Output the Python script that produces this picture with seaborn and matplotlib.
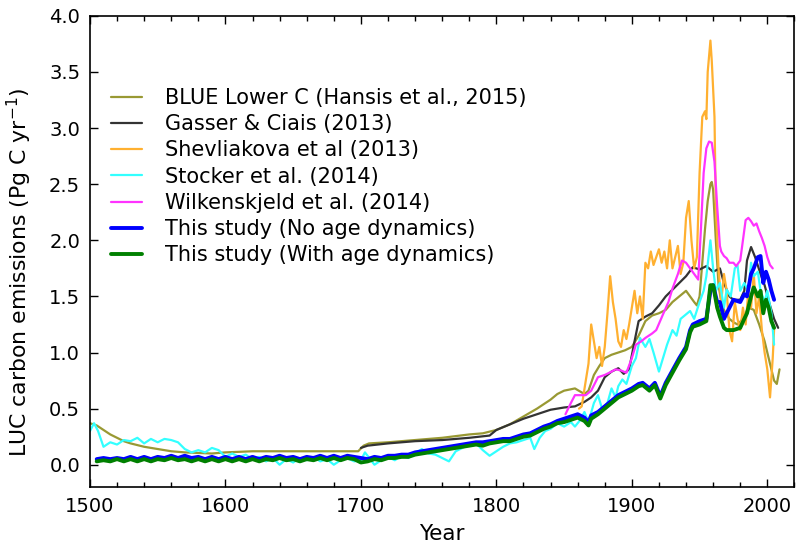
import matplotlib
matplotlib.use("Agg")
import matplotlib.pyplot as plt
from matplotlib.ticker import MultipleLocator
import seaborn as sns
import numpy as np

# BLUE Lower C (Hansis et al., 2015)
blue_years = [1500, 1505, 1510, 1515, 1520, 1525, 1530, 1540, 1550, 1560, 1570, 1580, 1590, 1600,
              1610, 1620, 1650, 1698, 1702, 1706, 1720, 1740, 1760, 1780, 1790, 1800, 1810, 1820,
              1830, 1840, 1845, 1850, 1858, 1865, 1868, 1872, 1876, 1880, 1885, 1890, 1895, 1900,
              1905, 1910, 1915, 1920, 1925, 1930, 1935, 1940, 1943, 1946, 1948, 1950, 1952, 1954,
              1956, 1958, 1959, 1960, 1962, 1964, 1966, 1968, 1972, 1975, 1978, 1982, 1986, 1990,
              1994, 1998, 2002, 2005, 2007, 2009]
blue_vals = [0.37, 0.35, 0.31, 0.27, 0.24, 0.21, 0.19, 0.16, 0.14, 0.12, 0.11, 0.105, 0.10, 0.11,
             0.115, 0.12, 0.12, 0.12, 0.17, 0.19, 0.20, 0.22, 0.24, 0.27, 0.28, 0.31, 0.36, 0.43,
             0.50, 0.58, 0.63, 0.66, 0.68, 0.63, 0.66, 0.80, 0.88, 0.95, 0.98, 1.00, 1.02, 1.05,
             1.15, 1.28, 1.33, 1.35, 1.38, 1.45, 1.50, 1.55, 1.50, 1.45, 1.42, 1.50, 1.80, 2.10,
             2.35, 2.50, 2.52, 2.45, 2.00, 1.60, 1.45, 1.38, 1.30, 1.27, 1.25, 1.30, 1.40, 1.38,
             1.25, 1.10, 0.90, 0.75, 0.72, 0.85]

# Gasser & Ciais (2013)
gasser_years = [1700, 1705, 1720, 1740, 1760, 1780, 1795, 1800, 1810, 1820, 1830, 1840, 1850, 1858,
                1865, 1870, 1875, 1880, 1885, 1890, 1894, 1898, 1902, 1905, 1910, 1915, 1920, 1925,
                1930, 1935, 1940, 1945, 1950, 1955, 1960, 1965, 1968, 1972, 1975, 1980, 1983, 1985,
                1988, 1991, 1995, 1998, 2002, 2005, 2008]
gasser_vals = [0.15, 0.17, 0.19, 0.21, 0.22, 0.24, 0.26, 0.31, 0.36, 0.41, 0.45, 0.49, 0.51, 0.52,
               0.56, 0.60, 0.66, 0.78, 0.83, 0.86, 0.81, 0.85, 1.10, 1.28, 1.32, 1.35, 1.42, 1.50,
               1.56, 1.62, 1.68, 1.76, 1.74, 1.77, 1.72, 1.75, 1.62, 1.50, 1.47, 1.47, 1.55, 1.82,
               1.94, 1.85, 1.70, 1.60, 1.42, 1.30, 1.22]

# Shevliakova et al (2013)
shev_years = [1861, 1863, 1866, 1868, 1870, 1872, 1874, 1876, 1878, 1880, 1882, 1884, 1886, 1888,
              1890, 1892, 1894, 1896, 1898, 1900, 1902, 1904, 1906, 1908, 1910, 1912, 1914, 1916,
              1918, 1920, 1922, 1924, 1926, 1928, 1930, 1932, 1934, 1936, 1938, 1940, 1942, 1944,
              1946, 1948, 1950, 1952, 1954, 1955, 1956, 1958, 1959, 1961, 1962, 1964, 1966, 1968,
              1970, 1972, 1974, 1976, 1978, 1980, 1982, 1984, 1986, 1988, 1990, 1992, 1994, 1996,
              1998, 2000, 2002, 2004, 2005]
shev_vals = [0.50, 0.52, 0.75, 0.90, 1.25, 1.10, 0.95, 1.05, 0.88, 1.05, 1.35, 1.68, 1.45, 1.30,
             1.10, 1.05, 1.20, 1.12, 1.25, 1.40, 1.55, 1.35, 1.50, 1.30, 1.80, 1.75, 1.90, 1.78,
             1.85, 1.92, 1.80, 1.90, 1.75, 2.00, 1.75, 1.85, 1.95, 1.70, 1.80, 2.20, 2.35, 2.00,
             1.75, 1.85, 2.60, 3.10, 3.15, 3.08, 3.50, 3.78, 3.60, 3.10, 2.30, 1.75, 1.45, 1.70,
             1.55, 1.20, 1.10, 1.45, 1.30, 1.20, 1.40, 1.25, 1.55, 1.40, 1.70, 1.35, 1.50, 1.20,
             1.00, 0.85, 0.60, 0.95, 1.20]

# Stocker et al. (2014)
stocker_years = [1500, 1503, 1506, 1510, 1515, 1520, 1525, 1530, 1535, 1540, 1545, 1550, 1555, 1560,
                 1565, 1570, 1575, 1580, 1585, 1590, 1595, 1600, 1605, 1610, 1615, 1620, 1625, 1630,
                 1635, 1640, 1645, 1650, 1655, 1660, 1665, 1670, 1675, 1680, 1685, 1690, 1695, 1700,
                 1703, 1710, 1715, 1720, 1725, 1730, 1735, 1740, 1745, 1750, 1755, 1760, 1765, 1770,
                 1775, 1780, 1785, 1790, 1795, 1800, 1805, 1810, 1815, 1820, 1825, 1828, 1832, 1836,
                 1840, 1845, 1850, 1855, 1858, 1862, 1865, 1868, 1872, 1875, 1878, 1882, 1885, 1888,
                 1890, 1893, 1896, 1900, 1903, 1906, 1910, 1913, 1916, 1920, 1923, 1926, 1930, 1933,
                 1936, 1940, 1943, 1946, 1950, 1953, 1955, 1958, 1960, 1962, 1965, 1968, 1970, 1973,
                 1976, 1978, 1980, 1983, 1986, 1988, 1990, 1993, 1995, 1998, 2000, 2003, 2005]
stocker_vals = [0.30, 0.37, 0.30, 0.16, 0.20, 0.18, 0.22, 0.21, 0.24, 0.19, 0.23, 0.20, 0.23, 0.22,
                0.20, 0.14, 0.11, 0.13, 0.11, 0.15, 0.13, 0.07, 0.10, 0.07, 0.09, 0.05, 0.07, 0.03,
                0.06, 0.00, 0.05, 0.02, 0.06, 0.04, 0.07, 0.03, 0.05, 0.00, 0.04, 0.06, 0.03, 0.04,
                0.11, 0.00, 0.04, 0.07, 0.04, 0.08, 0.06, 0.10, 0.14, 0.10, 0.09, 0.06, 0.03, 0.12,
                0.15, 0.18, 0.19, 0.13, 0.08, 0.12, 0.16, 0.19, 0.20, 0.22, 0.24, 0.14, 0.24, 0.30,
                0.32, 0.37, 0.34, 0.38, 0.34, 0.40, 0.47, 0.38, 0.55, 0.62, 0.50, 0.55, 0.68, 0.60,
                0.70, 0.76, 0.72, 0.88, 0.95, 1.13, 1.05, 1.12, 1.00, 0.83, 0.95, 1.07, 1.20, 1.15,
                1.30, 1.34, 1.37, 1.30, 1.45, 1.55, 1.68, 2.00, 1.75, 1.55, 1.62, 1.40, 1.56, 1.50,
                1.75, 1.78, 1.55, 1.62, 1.55, 1.80, 1.68, 1.72, 1.55, 1.45, 1.55, 1.35, 1.07]

# Wilkenskjeld et al. (2014)
wilk_years = [1851, 1855, 1858, 1862, 1866, 1870, 1875, 1880, 1885, 1888, 1892, 1896, 1900, 1903,
              1907, 1910, 1915, 1918, 1923, 1927, 1930, 1934, 1937, 1940, 1943, 1946, 1949, 1951,
              1953, 1955, 1957, 1959, 1961, 1963, 1965, 1966, 1968, 1970, 1972, 1975, 1977, 1980,
              1982, 1984, 1986, 1988, 1990, 1992, 1994, 1996, 1998, 2000, 2002, 2004]
wilk_vals = [0.45, 0.55, 0.62, 0.62, 0.62, 0.66, 0.78, 0.80, 0.83, 0.85, 0.84, 0.82, 0.95, 1.07,
             1.10, 1.13, 1.17, 1.20, 1.34, 1.45, 1.57, 1.70, 1.82, 1.80, 1.75, 1.70, 1.65, 2.10,
             2.60, 2.82, 2.88, 2.87, 2.70, 2.30, 1.95, 1.90, 1.86, 1.84, 1.80, 1.80, 1.77, 1.82,
             2.00, 2.18, 2.20, 2.17, 2.13, 2.15, 2.08, 2.02, 1.95, 1.85, 1.78, 1.75]

# This study
study_years = [1505, 1510, 1515, 1520, 1525, 1530, 1535, 1540, 1545, 1550, 1555, 1560, 1565, 1570,
               1575, 1580, 1585, 1590, 1595, 1600, 1605, 1610, 1615, 1620, 1625, 1630, 1635, 1640,
               1645, 1650, 1655, 1660, 1665, 1670, 1675, 1680, 1685, 1690, 1695, 1700, 1705, 1710,
               1715, 1720, 1725, 1730, 1735, 1740, 1745, 1750, 1755, 1760, 1765, 1770, 1775, 1780,
               1785, 1790, 1795, 1800, 1805, 1810, 1815, 1820, 1825, 1830, 1835, 1840, 1845, 1850,
               1855, 1860, 1865, 1868, 1870, 1875, 1880, 1885, 1890, 1895, 1900, 1905, 1908, 1913,
               1917, 1921, 1925, 1930, 1935, 1940, 1943, 1945, 1950, 1955, 1958, 1960, 1963, 1965,
               1968, 1970, 1975, 1980, 1983, 1985, 1988, 1990, 1993, 1995, 1997, 1999, 2001, 2003,
               2005]
no_age_vals = [0.05, 0.06, 0.05, 0.06, 0.05, 0.07, 0.05, 0.07, 0.05, 0.07, 0.06, 0.08, 0.06, 0.08,
               0.06, 0.07, 0.05, 0.07, 0.05, 0.07, 0.05, 0.07, 0.05, 0.07, 0.05, 0.07, 0.06, 0.08,
               0.06, 0.07, 0.05, 0.07, 0.06, 0.08, 0.06, 0.08, 0.06, 0.08, 0.07, 0.06, 0.05, 0.07,
               0.06, 0.08, 0.08, 0.09, 0.09, 0.11, 0.12, 0.13, 0.14, 0.15, 0.16, 0.17, 0.18, 0.19,
               0.20, 0.20, 0.21, 0.22, 0.23, 0.23, 0.25, 0.27, 0.28, 0.31, 0.34, 0.36, 0.39, 0.41,
               0.43, 0.45, 0.42, 0.38, 0.44, 0.47, 0.52, 0.57, 0.62, 0.65, 0.68, 0.72, 0.73, 0.68,
               0.73, 0.61, 0.73, 0.84, 0.95, 1.05, 1.20, 1.25, 1.28, 1.30, 1.55, 1.60, 1.45, 1.45,
               1.30, 1.35, 1.47, 1.45, 1.52, 1.50, 1.70, 1.75, 1.85, 1.86, 1.62, 1.72, 1.65, 1.55,
               1.47]
with_age_vals = [0.03, 0.04, 0.03, 0.05, 0.03, 0.05, 0.03, 0.05, 0.03, 0.05, 0.04, 0.06, 0.04, 0.05,
                 0.03, 0.05, 0.03, 0.05, 0.03, 0.05, 0.03, 0.05, 0.03, 0.05, 0.03, 0.05, 0.04, 0.06,
                 0.04, 0.05, 0.03, 0.05, 0.04, 0.06, 0.04, 0.06, 0.04, 0.06, 0.05, 0.02, 0.03, 0.05,
                 0.04, 0.06, 0.06, 0.07, 0.07, 0.09, 0.10, 0.11, 0.12, 0.13, 0.14, 0.15, 0.16, 0.17,
                 0.18, 0.17, 0.19, 0.20, 0.21, 0.21, 0.23, 0.25, 0.26, 0.29, 0.32, 0.34, 0.37, 0.38,
                 0.40, 0.42, 0.39, 0.35, 0.41, 0.45, 0.50, 0.55, 0.60, 0.63, 0.66, 0.70, 0.71, 0.66,
                 0.71, 0.59, 0.71, 0.82, 0.93, 1.03, 1.18, 1.23, 1.25, 1.28, 1.60, 1.60, 1.40, 1.32,
                 1.22, 1.20, 1.20, 1.22, 1.30, 1.35, 1.50, 1.58, 1.50, 1.55, 1.35, 1.47, 1.40, 1.28,
                 1.22]

sns.set_style("ticks")
plt.rcParams['font.family'] = ['DejaVu Sans']
plt.rcParams['text.color'] = 'black'
plt.rcParams['axes.labelcolor'] = 'black'
plt.rcParams['xtick.color'] = 'black'
plt.rcParams['ytick.color'] = 'black'

fig, ax = plt.subplots(figsize=(7.96, 5.48), dpi=100)
fig.subplots_adjust(left=0.113, right=0.998, top=0.971, bottom=0.111)

series = [
    (blue_years, blue_vals, '#999933', 1.6, "BLUE Lower C (Hansis et al., 2015)"),
    (gasser_years, gasser_vals, '#333333', 1.6, "Gasser & Ciais (2013)"),
    (shev_years, shev_vals, '#ffb030', 1.6, "Shevliakova et al (2013)"),
    (stocker_years, stocker_vals, '#33ffff', 1.6, "Stocker et al. (2014)"),
    (wilk_years, wilk_vals, '#ff33ff', 1.6, "Wilkenskjeld et al. (2014)"),
    (study_years, no_age_vals, '#0000ff', 2.8, "This study (No age dynamics)"),
    (study_years, with_age_vals, '#008000', 2.8, "This study (With age dynamics)"),
]
for yrs, vals, col, lw, lab in series:
    sns.lineplot(x=yrs, y=vals, color=col, linewidth=lw, label=lab, ax=ax)

ax.set_xlim(1500, 2020)
ax.set_ylim(-0.2, 4.0)
ax.xaxis.set_major_locator(MultipleLocator(100))
ax.xaxis.set_minor_locator(MultipleLocator(20))
ax.yaxis.set_major_locator(MultipleLocator(0.5))
ax.tick_params(which='both', direction='in', top=True, right=True, labelsize=14)
ax.tick_params(which='major', length=6, width=1, pad=7)
ax.tick_params(which='minor', length=3.5, width=1)
for sp in ax.spines.values():
    sp.set_linewidth(1.2)
    sp.set_color('black')

ax.set_xlabel("Year", fontsize=15.5, labelpad=6)
ax.set_ylabel("LUC carbon emissions (Pg C yr$^{-1}$)", fontsize=15.8)
ax.yaxis.set_label_coords(-0.079, 0.455)
ax.legend(loc='upper left', bbox_to_anchor=(0.003, 0.887), frameon=False, fontsize=15,
          handlelength=1.5, handletextpad=1.1, labelspacing=0.3)

fig.savefig("out.png", dpi=100)
